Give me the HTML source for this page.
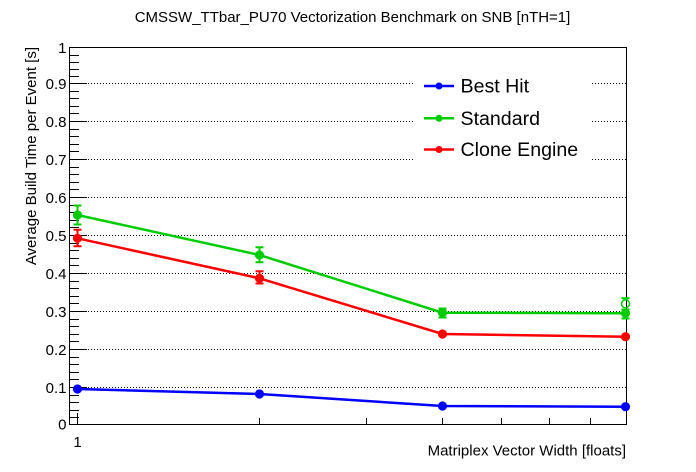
<!DOCTYPE html>
<html><head><meta charset="utf-8"><style>
html,body{margin:0;padding:0;background:#fff;}
svg{display:block;}
text{font-family:"Liberation Sans",Arial,sans-serif;fill:#000;}
</style></head><body>
<svg width="696" height="472" viewBox="0 0 696 472" xmlns="http://www.w3.org/2000/svg">
<rect width="696" height="472" fill="#fff"/>
<!-- title -->
<text x="352.5" y="22" font-size="15" text-anchor="middle">CMSSW_TTbar_PU70 Vectorization Benchmark on SNB [nTH=1]</text>
<!-- gridlines -->
<g stroke="#000" stroke-width="1" stroke-dasharray="1,2" fill="none">
<line x1="70" y1="387.5" x2="626" y2="387.5"/>
<line x1="70" y1="349.5" x2="626" y2="349.5"/>
<line x1="70" y1="311.5" x2="626" y2="311.5"/>
<line x1="70" y1="273.5" x2="626" y2="273.5"/>
<line x1="70" y1="235.5" x2="626" y2="235.5"/>
<line x1="70" y1="197.5" x2="626" y2="197.5"/>
<line x1="70" y1="159.5" x2="626" y2="159.5"/>
<line x1="70" y1="121.5" x2="626" y2="121.5"/>
<line x1="70" y1="83.5" x2="626" y2="83.5"/>
</g>
<!-- frame -->
<g stroke="#000" stroke-width="1" fill="none">
<rect x="69.5" y="47.5" width="557" height="377"/>
<!-- y major ticks -->
<path d="M70 424.5h17M70 387.5h17M70 349.5h17M70 311.5h17M70 273.5h17M70 235.5h17M70 197.5h17M70 159.5h17M70 121.5h17M70 83.5h17M70 47.5h17"/>
<!-- y minor ticks -->
<path d="M70 417.5h9M70 410.5h9M70 402.5h9M70 395.5h9
M70 379.5h9M70 372.5h9M70 364.5h9M70 357.5h9
M70 341.5h9M70 334.5h9M70 326.5h9M70 319.5h9
M70 303.5h9M70 296.5h9M70 288.5h9M70 281.5h9
M70 265.5h9M70 258.5h9M70 250.5h9M70 243.5h9
M70 227.5h9M70 220.5h9M70 212.5h9M70 205.5h9
M70 189.5h9M70 182.5h9M70 174.5h9M70 167.5h9
M70 151.5h9M70 144.5h9M70 136.5h9M70 129.5h9
M70 113.5h9M70 106.5h9M70 98.5h9M70 91.5h9
M70 76.5h9M70 69.5h9M70 62.5h9M70 55.5h9"/>
<!-- x ticks (log) -->
<path d="M77.5 424v-11M259.5 424v-6M366.5 424v-6M442.5 424v-6M501.5 424v-6M549.5 424v-6M590.5 424v-6M626.5 424v-6"/>
</g>
<!-- y tick labels -->
<g font-size="15" text-anchor="end">
<text x="66.5" y="429.5">0</text>
<text x="66.5" y="392.8">0.1</text>
<text x="66.5" y="354.8">0.2</text>
<text x="66.5" y="316.8">0.3</text>
<text x="66.5" y="278.8">0.4</text>
<text x="66.5" y="240.8">0.5</text>
<text x="66.5" y="202.8">0.6</text>
<text x="66.5" y="164.8">0.7</text>
<text x="66.5" y="126.8">0.8</text>
<text x="66.5" y="88.8">0.9</text>
<text x="66.5" y="53">1</text>
</g>
<text x="77.5" y="447" font-size="15" text-anchor="middle">1</text>
<text x="626" y="455.5" font-size="15" text-anchor="end">Matriplex Vector Width [floats]</text>
<text transform="translate(36,47) rotate(-90)" font-size="15" text-anchor="end">Average Build Time per Event [s]</text>

<!-- legend box -->
<rect x="415" y="63" width="176" height="110" fill="#fff"/>
<g stroke-width="2.5" fill="none">
<line x1="424" y1="86" x2="454" y2="86" stroke="#0000ff"/>
<line x1="424" y1="118.3" x2="454" y2="118.3" stroke="#00cc00"/>
<line x1="424" y1="149.5" x2="454" y2="149.5" stroke="#ff0000"/>
</g>
<circle cx="439" cy="86" r="3.5" fill="#0000ff"/>
<circle cx="439" cy="118.3" r="3.5" fill="#00cc00"/>
<circle cx="439" cy="149.5" r="3.5" fill="#ff0000"/>
<g font-size="19.6">
<text x="460.5" y="92.7">Best Hit</text>
<text x="460.5" y="125">Standard</text>
<text x="460.5" y="156">Clone Engine</text>
</g>

<!-- Best Hit (blue) -->
<polyline points="77.5,389 259.5,394 442.5,406 626,406.7" fill="none" stroke="#0000ff" stroke-width="2.5"/>
<g fill="#0000ff">
<circle cx="77.5" cy="389" r="4.6"/>
<circle cx="259.5" cy="394" r="4.6"/>
<circle cx="442.5" cy="406" r="4.6"/>
<circle cx="625.5" cy="406.7" r="4.6"/>
</g>

<!-- Standard (green) -->
<polyline points="77.5,215 259.5,255 442.5,312.7 626,313.3" fill="none" stroke="#00cc00" stroke-width="2.5"/>
<g stroke="#00cc00" stroke-width="2" fill="none">
<path d="M77.5 205v20M73.5 205.5h8M73.5 224.5h8"/>
<path d="M259.5 246.7v16M255.5 247.2h8M255.5 262.2h8"/>
<path d="M442.5 308v10M438.5 308.5h8M438.5 317.5h8"/>
<path d="M625.5 309v10M621.5 309.5h8M621.5 318.5h8"/>
<path d="M625.5 297.7v2.5M621.5 298.2h8"/>
</g>
<circle cx="625.5" cy="303.8" r="4" fill="none" stroke="#00cc00" stroke-width="1.5"/>
<g fill="#00cc00">
<circle cx="77.5" cy="215" r="4.6"/>
<circle cx="259.5" cy="255" r="4.6"/>
<circle cx="442.5" cy="312.7" r="4.6"/>
<circle cx="625.5" cy="313.3" r="4.6"/>
</g>

<!-- Clone Engine (red) -->
<polyline points="77.5,238.3 259.5,278.3 442.5,334 626,336.7" fill="none" stroke="#ff0000" stroke-width="2.5"/>
<g stroke="#ff0000" stroke-width="2" fill="none">
<path d="M77.5 229.3v17.4M73.5 229.8h8M73.5 246.2h8"/>
<path d="M259.5 270.7v13.3M255.5 271.2h8M255.5 283.5h8"/>
</g>
<g fill="#ff0000">
<circle cx="77.5" cy="238.3" r="4.6"/>
<circle cx="259.5" cy="278.3" r="4.6"/>
<circle cx="442.5" cy="334" r="4.6"/>
<circle cx="625.5" cy="336.7" r="4.6"/>
</g>
</svg>
</body></html>
